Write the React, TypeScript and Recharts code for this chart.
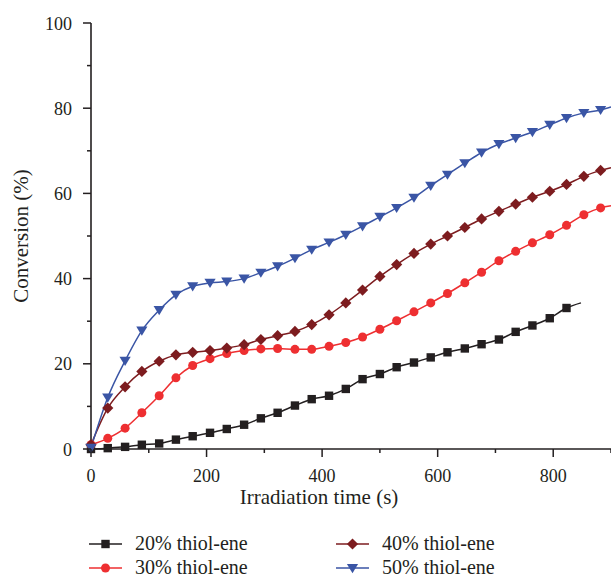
import React from 'react';
import { LineChart, Line, XAxis, YAxis, Legend } from 'recharts';

// irradiation time (s); 848 and 900 are only line ends, no marker there
const times = [
  0, 29, 59, 88, 118, 147, 176, 206, 235, 265, 294, 323, 353, 382, 412, 441, 470,
  500, 529, 559, 588, 617, 647, 676, 706, 735, 764, 794, 823, 848, 853, 882, 900,
];
const lineEnds = [848, 900];

const thiol20 = [
  0, 0.2, 0.5, 1.0, 1.3, 2.2, 3.0, 3.8, 4.7, 5.7, 7.2, 8.5, 10.2, 11.7, 12.5, 14.1, 16.4,
  17.6, 19.2, 20.3, 21.5, 22.7, 23.6, 24.6, 25.7, 27.5, 29.0, 30.7, 33.1, 34.3, null, null, null,
];
const thiol30 = [
  1.0, 2.5, 4.9, 8.5, 12.5, 16.7, 19.6, 21.2, 22.4, 23.1, 23.5, 23.6, 23.4, 23.4, 24.1, 25.0, 26.3,
  28.1, 30.1, 32.2, 34.3, 36.5, 39.0, 41.5, 44.2, 46.4, 48.4, 50.3, 52.5, null, 55.0, 56.6, 57.1,
];
const thiol40 = [
  1.0, 9.6, 14.6, 18.2, 20.6, 22.1, 22.7, 23.1, 23.7, 24.5, 25.7, 26.6, 27.6, 29.2, 31.5, 34.3, 37.3,
  40.5, 43.3, 45.9, 48.1, 50.0, 52.0, 54.0, 55.8, 57.5, 59.1, 60.5, 62.1, null, 64.0, 65.4, 66.0,
];
const thiol50 = [
  0.3, 12.1, 20.7, 27.8, 32.6, 36.2, 38.2, 39.0, 39.3, 40.0, 41.4, 42.9, 44.8, 46.8, 48.5, 50.3, 52.3,
  54.5, 56.6, 59.0, 61.8, 64.4, 67.1, 69.6, 71.6, 73.0, 74.4, 76.1, 77.7, null, 78.9, 79.6, 80.3,
];

const xTicks = [0, 100, 200, 300, 400, 500, 600, 700, 800, 900];
const yTicks = [0, 10, 20, 30, 40, 50, 60, 70, 80, 90, 100];

const series = [
  { key: 'thiol20', name: '20% thiol-ene', color: '#231f20', shape: 'square' },
  { key: 'thiol30', name: '30% thiol-ene', color: '#ee2f31', shape: 'circle' },
  { key: 'thiol40', name: '40% thiol-ene', color: '#7d1c1f', shape: 'diamond' },
  { key: 'thiol50', name: '50% thiol-ene', color: '#3a55a5', shape: 'triangle' },
];

const data = times.map((t, i) => ({
  time: t,
  end: lineEnds.includes(t),
  thiol20: thiol20[i],
  thiol30: thiol30[i],
  thiol40: thiol40[i],
  thiol50: thiol50[i],
}));

const font = "'Liberation Serif', 'Times New Roman', serif";
const axisColor = '#231f20';

function marker(shape: string, cx: number, cy: number, color: string, key?: any) {
  if (shape === 'square') {
    return <rect key={key} x={cx - 4.2} y={cy - 4.2} width={8.4} height={8.4} fill={color} />;
  }
  if (shape === 'circle') {
    return <circle key={key} cx={cx} cy={cy} r={4.5} fill={color} />;
  }
  if (shape === 'diamond') {
    return (
      <polygon
        key={key}
        points={`${cx},${cy - 5.6} ${cx + 5.6},${cy} ${cx},${cy + 5.6} ${cx - 5.6},${cy}`}
        fill={color}
      />
    );
  }
  return (
    <polygon
      key={key}
      points={`${cx - 5.6},${cy - 4} ${cx + 5.6},${cy - 4} ${cx},${cy + 5.2}`}
      fill={color}
    />
  );
}

const makeDot = (shape: string, color: string) => (props: any) => {
  const { cx, cy, payload, index } = props;
  if (cx == null || cy == null || payload.end || payload[props.dataKey] == null) {
    return <g key={index} />;
  }
  return marker(shape, cx, cy, color, index);
};

const YTick = (props: any) => {
  const { x, y, payload } = props;
  const major = payload.value % 20 === 0;
  return (
    <g>
      <line x1={x} x2={x - (major ? 8 : 4)} y1={y} y2={y} stroke={axisColor} strokeWidth={1.5} />
      {major && (
        <text x={x - 19} y={y + 6.5} textAnchor="end" fontFamily={font} fontSize={18} fill={axisColor}>
          {payload.value}
        </text>
      )}
    </g>
  );
};

const XTick = (props: any) => {
  const { x, y, payload } = props;
  const major = payload.value % 200 === 0;
  return (
    <g>
      <line x1={x} x2={x} y1={y} y2={y + (major ? 8 : 4)} stroke={axisColor} strokeWidth={1.5} />
      {major && (
        <text x={x} y={y + 33} textAnchor="middle" fontFamily={font} fontSize={18} fill={axisColor}>
          {payload.value}
        </text>
      )}
    </g>
  );
};

const LegendBox = () => (
  <div style={{ position: 'relative', height: 0 }}>
    <svg width={611} height={49} style={{ position: 'absolute', left: 0, top: 0, overflow: 'visible' }}>
      {series.map((s, i) => {
        const col = Math.floor(i / 2);
        const row = i % 2;
        const x0 = col === 0 ? 89 : 336;
        const cy = row === 0 ? 14 : 38;
        return (
          <g key={s.key}>
            <line x1={x0} x2={x0 + 33} y1={cy} y2={cy} stroke={s.color} strokeWidth={1.5} />
            {marker(s.shape, x0 + 16.5, cy, s.color)}
            <text x={x0 + 46} y={cy + 6} fontFamily={font} fontSize={20} fill={axisColor}>
              {s.name}
            </text>
          </g>
        );
      })}
    </svg>
  </div>
);

export default function App() {
  return (
    <div style={{ position: 'absolute', left: 0, top: 0, background: '#fff' }}>
      <LineChart width={611} height={579} data={data} margin={{ top: 23, right: 0, bottom: 70, left: 0 }}>
        <XAxis
          dataKey="time"
          type="number"
          domain={[0, 900]}
          ticks={xTicks}
          interval={0}
          height={60}
          tickSize={0}
          tickMargin={0}
          tickLine={false}
          tick={<XTick />}
          axisLine={{ stroke: axisColor, strokeWidth: 1.6 }}
          label={() => (
            <text x={319} y={504} textAnchor="middle" fontFamily={font} fontSize={21} fill={axisColor}>
              Irradiation time (s)
            </text>
          )}
        />
        <YAxis
          type="number"
          domain={[0, 100]}
          ticks={yTicks}
          interval={0}
          width={91}
          tickSize={0}
          tickMargin={0}
          tickLine={false}
          tick={<YTick />}
          axisLine={{ stroke: axisColor, strokeWidth: 1.6 }}
          label={() => (
            <text
              x={27.5}
              y={236}
              transform="rotate(-90 27.5 236)"
              textAnchor="middle"
              fontFamily={font}
              fontSize={21}
              fill={axisColor}
            >
              Conversion (%)
            </text>
          )}
        />
        <Legend
          content={<LegendBox />}
          wrapperStyle={{ left: 0, top: 530, width: 611, height: 0, margin: 0, padding: 0 }}
        />
        {series.map((s) => (
          <Line
            key={s.key}
            dataKey={s.key}
            name={s.name}
            type="monotone"
            stroke={s.color}
            strokeWidth={1.5}
            connectNulls
            dot={makeDot(s.shape, s.color)}
            activeDot={false}
            isAnimationActive={false}
          />
        ))}
      </LineChart>
    </div>
  );
}
